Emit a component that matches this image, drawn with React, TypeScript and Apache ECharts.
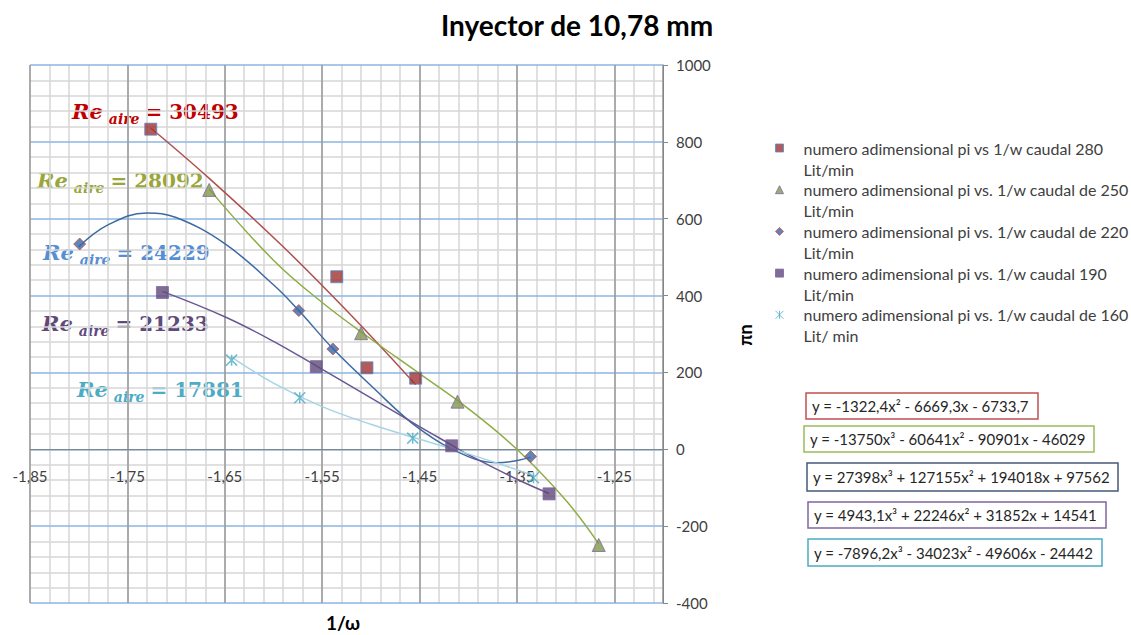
import React, { useEffect, useRef } from "react";
import * as echarts from "echarts";

// ---------- data ----------
const seriesNames = [
  "numero adimensional pi vs 1/w caudal 280\nLit/min",
  "numero adimensional pi vs. 1/w caudal de 250\nLit/min",
  "numero adimensional pi vs. 1/w caudal de 220\nLit/min",
  "numero adimensional pi vs. 1/w caudal 190\nLit/min",
  "numero adimensional pi vs. 1/w caudal de 160\nLit/ min",
];

const x280 = [-1.726, -1.535, -1.504, -1.454];
const y280 = [833, 449, 212, 185];
const x250 = [-1.666, -1.51, -1.411, -1.266];
const y250 = [675, 302, 124, -249];
const x220 = [-1.799, -1.574, -1.539, -1.336];
const y220 = [534, 361, 261, -19];
const x190 = [-1.714, -1.556, -1.417, -1.317];
const y190 = [408, 215, 9, -116];
const x160 = [-1.643, -1.573, -1.457, -1.333];
const y160 = [232, 134, 29, -74];

// trend curves
const tx280 = [-1.726, -1.666, -1.59, -1.52, -1.454];
const ty280 = [836, 705, 527, 348, 168];
const tx250 = [-1.666, -1.6, -1.55, -1.5, -1.45, -1.4, -1.35, -1.3, -1.266];
const ty250 = [677, 492, 382, 287, 197, 106, 0, -132, -246];
const tx220 = [-1.8, -1.77, -1.73, -1.7, -1.65, -1.6, -1.574, -1.539, -1.5, -1.45, -1.4, -1.37, -1.336];
const ty220 = [527, 584, 615, 603, 535, 428, 361, 262, 166, 53, -19, -35, -21];
const tx190 = [-1.714, -1.65, -1.6, -1.556, -1.5, -1.45, -1.417, -1.4, -1.35, -1.317];
const ty190 = [411, 345, 281, 217, 134, 59, 11, -14, -78, -115];
const tx160 = [-1.643, -1.6, -1.55, -1.5, -1.45, -1.4, -1.35, -1.333];
const ty160 = [240, 172, 111, 65, 26, -12, -53, -69];

const xTickLabels = ["-1,85", "-1,75", "-1,65", "-1,55", "-1,45", "-1,35", "-1,25"];
const yTickLabels = ["-400", "-200", "0", "200", "400", "600", "800", "1000"];

const reynolds = ["30493", "28092", "24229", "21233", "17881"];
const equations = [
  "y = -1322,4x² - 6669,3x - 6733,7",
  "y = -13750x³ - 60641x² - 90901x - 46029",
  "y = 27398x³ + 127155x² + 194018x + 97562",
  "y = 4943,1x³ + 22246x² + 31852x + 14541",
  "y = -7896,2x³ - 34023x² - 49606x - 24442",
];

// ---------- styles / layout ----------
const markerFill = ["#9E3331", "#7F9A48", "#3A66A6", "#5F497A", "#4BACC6"];
const markerBorder = ["#5B8BC8", "#8064A2", "#C0504D", "#8064A2", "#4BACC6"];
const markerSymbol = ["rect", "triangle", "diamond", "rect", "path://M0,0L10,10M10,0L0,10M5,0L5,10"];
const markerSize = [12, 13, 12, 12, 11];
const trendColors = ["#B0504D", "#8EAD47", "#3D6AA3", "#6A5792", "#A5D5E6"];
const reColors = ["#C00000", "#9AA63A", "#558ED5", "#604A7B", "#4BACC6"];
const reLeft = [72, 37, 43, 42, 77];
const reBaseline = [119, 188, 260, 331, 397];
const eqBoxes = [
  [806, 393, 232, 26],
  [804, 426, 290, 26],
  [807, 463, 311, 28],
  [808, 502, 298, 26],
  [808, 539, 294, 27],
];
const eqColors = ["#C0504D", "#9BBB59", "#46597A", "#8064A2", "#4BACC6"];

const zip = (xs: number[], ys: number[]) => xs.map((x, i) => [x, ys[i]]);

const RE_FONT = "italic bold 21px 'DejaVu Serif'";
const SUB_FONT = "italic bold 14px 'DejaVu Serif'";
const EQ_FONT = "bold 20px 'DejaVu Serif'";

function measure(text: string, font: string): number {
  const c = document.createElement("canvas").getContext("2d");
  if (!c) return text.length * 10;
  c.font = font;
  return c.measureText(text).width;
}

export default function App() {
  const ref = useRef<HTMLDivElement>(null);
  useEffect(() => {
    if (!ref.current) return;
    const chart = echarts.init(ref.current, undefined, { renderer: "svg" });
    const xs = [x280, x250, x220, x190, x160];
    const ys = [y280, y250, y220, y190, y160];
    const txs = [tx280, tx250, tx220, tx190, tx160];
    const tys = [ty280, ty250, ty220, ty190, ty160];

    const scatterSeries = seriesNames.map((name, i) => ({
      type: "scatter",
      name,
      data: zip(xs[i], ys[i]),
      symbol: markerSymbol[i],
      symbolSize: markerSize[i],
      itemStyle: {
        color: markerFill[i],
        borderColor: markerBorder[i],
        borderWidth: i === 4 ? 1.5 : 1,
      },
      z: 4,
      silent: true,
    }));
    const trendSeries = seriesNames.map((_name, i) => ({
      type: "line",
      name: "trend " + i,
      data: zip(txs[i], tys[i]),
      smooth: 0.4,
      showSymbol: false,
      lineStyle: { color: trendColors[i], width: 1.5 },
      z: 3,
      silent: true,
    }));

    const wRe = measure("Re", RE_FONT);
    const wSub = measure("aire", SUB_FONT);
    const reGraphics: any[] = [];
    reynolds.forEach((r, i) => {
      const x0 = reLeft[i];
      const yb = reBaseline[i];
      const mainCenter = yb - 0.346 * 21;
      const eqCenter = yb - 0.346 * 20;
      const subCenter = yb + 5 - 0.346 * 14;
      const xSub = x0 + wRe + 6;
      const xEq = xSub + wSub + 6;
      reGraphics.push(
        {
          type: "text",
          x: x0,
          y: mainCenter,
          style: { text: "Re", font: RE_FONT, fill: reColors[i], align: "left", verticalAlign: "middle" },
        },
        {
          type: "text",
          x: xSub,
          y: subCenter,
          style: { text: "aire", font: SUB_FONT, fill: reColors[i], align: "left", verticalAlign: "middle" },
        },
        {
          type: "text",
          x: xEq,
          y: eqCenter,
          style: { text: "= " + r, font: EQ_FONT, fill: reColors[i], align: "left", verticalAlign: "middle" },
        }
      );
    });

    const eqGraphics = equations.map((eq, i) => ({
      type: "group",
      children: [
        {
          type: "rect",
          shape: { x: eqBoxes[i][0], y: eqBoxes[i][1], width: eqBoxes[i][2], height: eqBoxes[i][3] },
          style: { fill: "#ffffff", stroke: eqColors[i], lineWidth: 1.5 },
        },
        {
          type: "text",
          x: eqBoxes[i][0] + 6,
          y: eqBoxes[i][1] + eqBoxes[i][3] / 2,
          style: {
            text: eq,
            fill: "#262626",
            font: "15px Lato",
            verticalAlign: "middle",
            align: "left",
          },
        },
      ],
    }));

    chart.setOption({
      animation: false,
      backgroundColor: "#ffffff",
      grid: { left: 30, right: 468, top: 65, bottom: 32 },
      xAxis: [
        {
          type: "value",
          min: -1.85,
          max: -1.2,
          interval: 0.1,
          z: 1,
          axisLine: { onZero: true, lineStyle: { color: "#868686", width: 1 } },
          axisTick: { show: false },
          axisLabel: {
            margin: -135,
            color: "#404040",
            fontSize: 15,
            fontFamily: "Lato",
            formatter: (_v: number, idx: number) => xTickLabels[idx] ?? "",
          },
          splitLine: { show: true, lineStyle: { color: "#9a9a9a", width: 1.5 } },
        },
        {
          type: "value",
          min: -1.85,
          max: -1.2,
          interval: 0.02,
          z: 0,
          axisLine: { show: false, onZero: false },
          axisTick: { show: false },
          axisLabel: { show: false },
          splitLine: { show: true, lineStyle: { color: "#d6d6d6", width: 1.5 } },
        },
      ],
      yAxis: {
        type: "value",
        position: "right",
        min: -400,
        max: 1000,
        interval: 200,
        z: 1,
        axisLine: { show: true, onZero: false, lineStyle: { color: "#868686" } },
        axisTick: { show: true, length: 5, lineStyle: { color: "#868686" } },
        axisLabel: {
          margin: 13,
          color: "#404040",
          fontSize: 15,
          fontFamily: "Lato",
          formatter: (_v: number, idx: number) => yTickLabels[idx] ?? "",
        },
        splitLine: { show: true, lineStyle: { color: "#8DB4E2", width: 1.5 } },
        minorTick: { show: false, splitNumber: 5 },
        minorSplitLine: { show: true, lineStyle: { color: "#d6d6d6", width: 1.5 } },
      },
      legend: {
        data: seriesNames,
        orient: "vertical",
        left: 775,
        top: 116.5,
        padding: 0,
        itemWidth: 8,
        itemHeight: 8,
        itemGap: -21.3,
        selectedMode: false,
        itemStyle: { borderWidth: 1 },
        formatter: (name: string) => "\n" + name,
        textStyle: {
          fontFamily: "Lato",
          fontSize: 16,
          color: "#404040",
          lineHeight: 21,
          padding: [0, 0, 0, 15],
          backgroundColor: "rgba(255,255,255,0)",
        },
      },
      series: [...trendSeries, ...scatterSeries],
      graphic: [
        {
          type: "text",
          x: 577,
          y: 25,
          style: {
            text: "Inyector de 10,78 mm",
            font: "bold 28px Lato",
            fill: "#000000",
            align: "center",
            verticalAlign: "middle",
          },
        },
        {
          type: "text",
          x: 343,
          y: 622,
          style: {
            text: "1/ω",
            font: "bold 19px Lato",
            fill: "#000000",
            align: "center",
            verticalAlign: "middle",
          },
        },
        {
          type: "text",
          x: 745,
          y: 335,
          rotation: Math.PI / 2,
          style: {
            text: "πn",
            font: "bold 18px Lato",
            fill: "#000000",
            align: "center",
            verticalAlign: "middle",
          },
        },
        ...reGraphics,
        ...eqGraphics,
      ],
    });
    return () => chart.dispose();
  }, []);
  return (
    <div
      ref={ref}
      style={{ position: "absolute", left: 0, top: 0, width: 1131, height: 635 }}
    />
  );
}
